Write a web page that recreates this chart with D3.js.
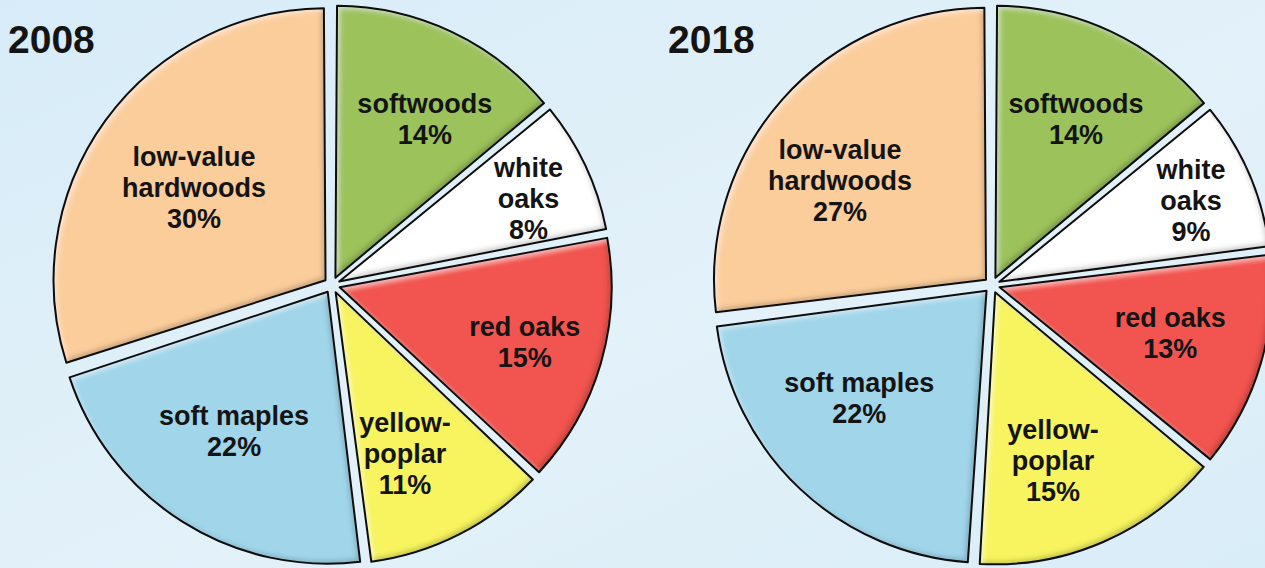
<!DOCTYPE html>
<html>
<head>
<meta charset="utf-8">
<script src="https://cdn.jsdelivr.net/npm/d3@7"></script>
<style>
    html, body { margin: 0; padding: 0; overflow: hidden; }
    body { width: 1265px; height: 568px; }
    text { font-family: "Liberation Sans", Arial, sans-serif; font-weight: bold; fill: #141414; }
</style>
</head>
<body>
<script>
// data, in clockwise order starting at 12 o'clock
const categories = ["softwoods", "white oaks", "red oaks", "yellow-poplar", "soft maples", "low-value hardwoods"];
const label_lines = [["softwoods"], ["white", "oaks"], ["red oaks"], ["yellow-", "poplar"], ["soft maples"], ["low-value", "hardwoods"]];
const years = ["2008", "2018"];
const shares_2008 = [14, 8, 15, 11, 22, 30];
const shares_2018 = [14, 9, 13, 15, 22, 27];

// styling
const colours = ["#9cc25c", "#ffffff", "#f2544f", "#f7f45e", "#a0d5ea", "#fbcd9b"];
// label placement: fraction of radius, and degrees off the slice mid-angle
const pull_2008 = [0.67, 0.76, 0.71, 0.644, 0.617, 0.593];
const turn_2008 = [4.2, 1.5, 0.3, 3.7, 1.5, -0.6];
const pull_2018 = [0.655, 0.766, 0.649, 0.652, 0.612, 0.65];
const turn_2018 = [1.7, 0.3, -1.2, 4.4, 6.7, -7.1];

const wb = 1265;
const hb = 568;
const radius = 272;
const explode = 8;
const cy = 285;

const svg = d3.select("body")
    .append("svg")
    .attr("width", wb)
    .attr("height", hb);

const defs = svg.append("defs");
const bg = defs.append("linearGradient")
    .attr("id", "bg")
    .attr("x1", 0).attr("y1", 0)
    .attr("x2", 1).attr("y2", 1);
bg.append("stop").attr("offset", "0%").attr("stop-color", "#d7ecf8");
bg.append("stop").attr("offset", "55%").attr("stop-color", "#e3f1f9");
bg.append("stop").attr("offset", "100%").attr("stop-color", "#d9edf8");

// bevel: darker inner edge bottom-right, light inner edge top-left
const f = defs.append("filter")
    .attr("id", "bevel")
    .attr("x", "-5%").attr("y", "-5%")
    .attr("width", "110%").attr("height", "110%");
f.append("feGaussianBlur").attr("in", "SourceAlpha").attr("stdDeviation", 2.5).attr("result", "blur");
f.append("feOffset").attr("in", "blur").attr("dx", -3).attr("dy", -3).attr("result", "up");
f.append("feComposite").attr("in", "SourceAlpha").attr("in2", "up")
    .attr("operator", "arithmetic").attr("k2", 1).attr("k3", -1).attr("result", "dark_edge");
f.append("feFlood").attr("flood-color", "#000").attr("flood-opacity", 0.4);
f.append("feComposite").attr("in2", "dark_edge").attr("operator", "in").attr("result", "shadow");
f.append("feOffset").attr("in", "blur").attr("dx", 3).attr("dy", 3).attr("result", "down");
f.append("feComposite").attr("in", "SourceAlpha").attr("in2", "down")
    .attr("operator", "arithmetic").attr("k2", 1).attr("k3", -1).attr("result", "light_edge");
f.append("feFlood").attr("flood-color", "#fff").attr("flood-opacity", 0.45);
f.append("feComposite").attr("in2", "light_edge").attr("operator", "in").attr("result", "shine");
const merge = f.append("feMerge");
merge.append("feMergeNode").attr("in", "SourceGraphic");
merge.append("feMergeNode").attr("in", "shadow");
merge.append("feMergeNode").attr("in", "shine");

svg.append("rect")
    .attr("width", wb)
    .attr("height", hb)
    .attr("fill", "url(#bg)");

const xax = d3.scaleBand()
    .domain(years)
    .range([2, 1322]);

const colour = d3.scaleOrdinal(categories, colours);

const pie = d3.pie()
    .sort(null)
    .value(d => d.share);

const arc = d3.arc()
    .innerRadius(0)
    .outerRadius(radius)
    .padAngle(0.012);

const mid = a => (a.startAngle + a.endAngle) / 2;

const draw_pie = (year, shares, pulls, turns) => {
    const rows = categories.map((c, i) => ({
        key: c, share: shares[i], lines: label_lines[i],
        pull: pulls[i], turn: turns[i] * Math.PI / 180
    }));
    const cx = xax(year) + xax.bandwidth() / 2;
    const g = svg.append("g")
        .attr("class", "pie")
        .attr("transform", `translate(${cx}, ${cy})`);

    const slices = g.selectAll("g.slice")
        .data(pie(rows))
        .join("g")
        .attr("class", "slice")
        .attr("transform", a => `translate(${explode * Math.sin(mid(a))}, ${-explode * Math.cos(mid(a))})`);

    slices.append("path")
        .attr("d", arc)
        .attr("fill", a => colour(a.data.key))
        .attr("filter", "url(#bevel)");

    slices.append("path")
        .attr("d", arc)
        .attr("fill", "none")
        .attr("stroke", "#0d0d0d")
        .attr("stroke-width", 2)
        .attr("stroke-linejoin", "round");

    const line_h = 31;
    slices.append("text")
        .attr("text-anchor", "middle")
        .attr("font-size", 27)
        .attr("transform", a => {
            const r = radius * a.data.pull;
            const t = mid(a) + a.data.turn;
            return `translate(${r * Math.sin(t)}, ${-r * Math.cos(t)})`;
        })
        .each(function (a) {
            const lines = [...a.data.lines, `${a.data.share}%`];
            const top = -(lines.length - 1) * line_h / 2;
            d3.select(this)
                .selectAll("tspan")
                .data(lines)
                .join("tspan")
                .attr("x", 0)
                .attr("y", (l, i) => top + i * line_h)
                .attr("dy", "0.36em")
                .text(l => l);
        });

    svg.append("text")
        .attr("x", xax(year) + 6)
        .attr("y", 53)
        .attr("font-size", 39)
        .text(year);
};

draw_pie("2008", shares_2008, pull_2008, turn_2008);
draw_pie("2018", shares_2018, pull_2018, turn_2018);
</script>
</body>
</html>
